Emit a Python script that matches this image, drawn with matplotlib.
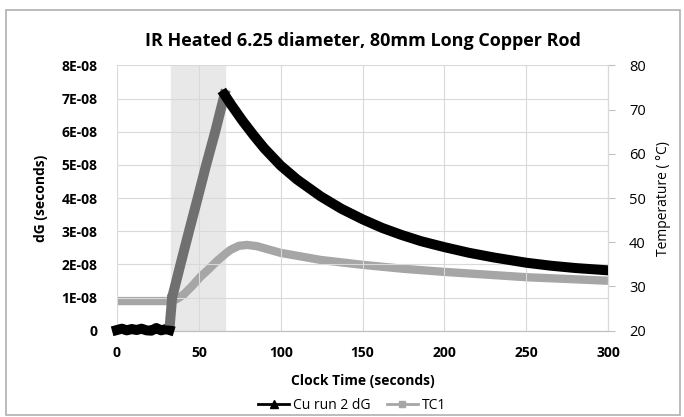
import numpy as np
import matplotlib.pyplot as plt
from matplotlib.patches import Rectangle
from matplotlib.lines import Line2D

plt.rcParams['font.family'] = ['Open Sans', 'DejaVu Sans']

# dG series (units of 1e-8 s), split into baseline, heating ramp and decay
base_t = [0, 3, 6, 9, 12, 15, 18, 21, 24, 27, 30, 32]
base_v = [0.02, 0.06, 0.01, 0.05, 0.02, 0.06, 0.01, 0.0, 0.08, 0.01, 0.05, 0.02]

rise_t = [32.5, 33.7, 38.8, 44, 49.3, 54.5, 60, 65.7]
rise_v = [0.3, 1.0, 2.0, 3.0, 4.0, 5.0, 6.0, 7.12]

decay_t = [65.7, 70, 76.7, 83.7, 90, 100, 110, 124.5, 137, 150, 162, 173.7,
           185.7, 200, 215, 230, 250, 265, 280, 300]
decay_v = [7.12, 6.80, 6.33, 5.88, 5.50, 4.98, 4.56, 4.05, 3.68, 3.36, 3.10, 2.89,
           2.70, 2.52, 2.35, 2.21, 2.05, 1.96, 1.89, 1.82]

# TC1 temperature (deg C)
tc_t = [0, 10, 20, 30, 33, 36.7, 40.8, 45.9, 51, 56, 61.2, 66.3, 69.4, 74.5,
        79.6, 85.7, 100, 124.5, 150, 175, 200, 225, 250, 275, 300]
tc_v = [26.7, 26.7, 26.7, 26.7, 26.7, 27.2, 28.2, 30.1, 32.2, 33.9, 35.8, 37.4,
        38.3, 39.2, 39.4, 39.1, 37.6, 36.0, 34.9, 34.0, 33.3, 32.7, 32.1, 31.7, 31.3]

heat_start, heat_end = 33, 66

fig = plt.figure(figsize=(6.84, 4.17), dpi=100)
fig.patches.append(Rectangle((0.009, 0.004), 0.985, 0.971, transform=fig.transFigure,
                             fill=False, edgecolor='#b0b0b0', lw=1.2))
ax = fig.add_axes([0.171, 0.207, 0.718, 0.636])
ax2 = ax.twinx()

ax2.axvspan(heat_start, heat_end, color='#e8e8e8', zorder=0)

scale = 1e-8
kw = dict(lw=7.2, zorder=3, solid_joinstyle='round')
ax.plot(np.array(base_t), np.array(base_v) * scale, color='black', clip_on=False, **kw)
ax.plot([32.3, 32.8], [0.05 * scale, 1.0 * scale], color='black', lw=4.5, zorder=3)
ax.plot(np.array(rise_t), np.array(rise_v) * scale, color='#707070', **kw)
ax.plot(np.array(decay_t), np.array(decay_v) * scale, color='black', **kw)

ax2.plot(tc_t, tc_v, color='#a6a6a6', lw=6, zorder=2, solid_capstyle='butt',
         solid_joinstyle='round')

ax.set_zorder(ax2.get_zorder() + 1)
ax.patch.set_visible(False)

ax.set_xlim(0, 300)
ax.set_ylim(0, 8e-8)
ax2.set_ylim(20, 80)
ax.set_xticks(np.arange(0, 301, 50))
ax.set_yticks(np.arange(0, 8.01e-8, 1e-8))
ax.set_yticklabels(['0'] + ['%dE-08' % i for i in range(1, 9)])
ax2.set_yticks(np.arange(20, 81, 10))

ax2.grid(False)
ax.grid(True, color='#d9d9d9', lw=0.8)
ax.set_axisbelow(True)
for a in (ax, ax2):
    for s in ('top', 'left'):
        a.spines[s].set_visible(False)
    a.spines['bottom'].set_color('#bfbfbf')
    a.spines['right'].set_color('#d9d9d9')

ax.tick_params(axis='x', length=0, labelsize=10, pad=11)
ax.tick_params(axis='y', length=0, labelsize=10, pad=14)
for lab in ax.get_xticklabels() + ax.get_yticklabels():
    lab.set_fontweight('bold')
ax2.tick_params(axis='y', length=5, color='#bfbfbf', labelsize=10.5, pad=10)

ax.set_xlabel('Clock Time (seconds)', fontsize=10, fontweight='bold', labelpad=10)
ax.set_ylabel('dG (seconds)', fontsize=10, fontweight='bold', labelpad=10)
ax2.set_ylabel('Temperature ( \u00b0C)', fontsize=10, labelpad=7)
ax.set_title('IR Heated 6.25 diameter, 80mm Long Copper Rod', fontsize=13,
             fontweight='bold', pad=14)

handles = [Line2D([], [], color='black', lw=2, marker='^', markersize=6),
           Line2D([], [], color='#a6a6a6', lw=2, marker='s', markersize=5)]
fig.legend(handles, ['Cu run 2 dG', 'TC1'], loc='center', bbox_to_anchor=(0.515, 0.028),
           ncol=2, frameon=False, fontsize=10, handlelength=2.2, columnspacing=1.2,
           handletextpad=0.3)

fig.savefig('out.png', dpi=100)
